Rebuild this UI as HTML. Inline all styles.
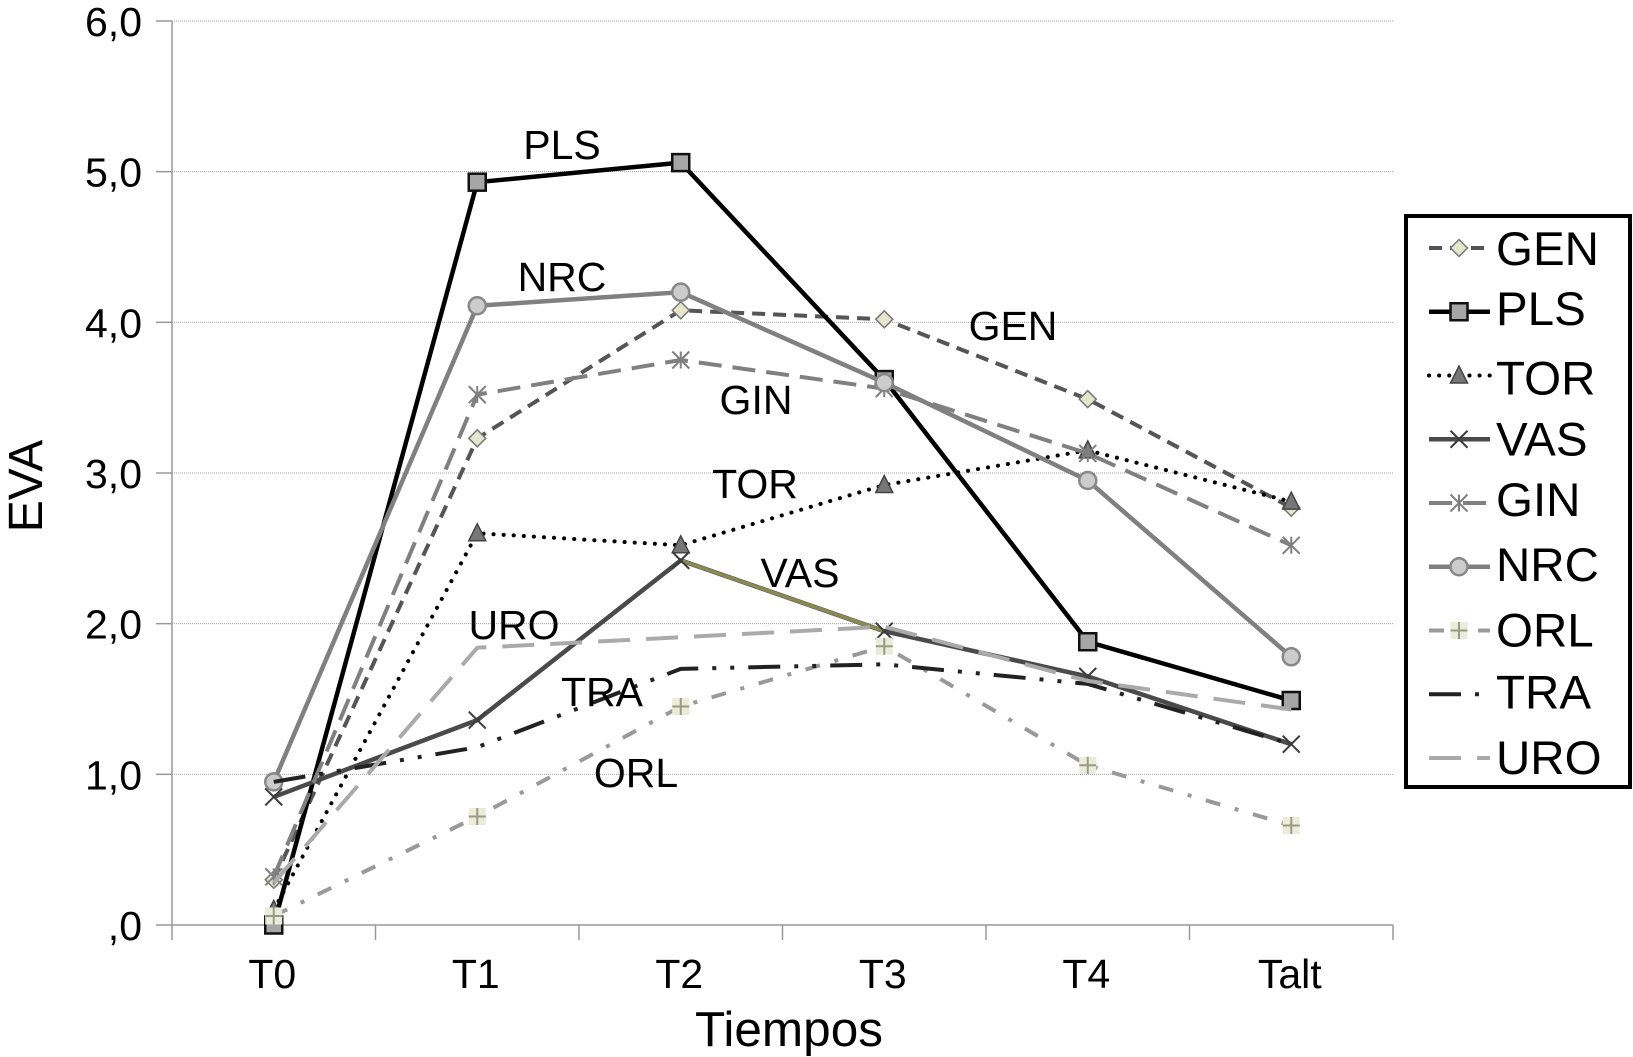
<!DOCTYPE html>
<html lang="es">
<head>
<meta charset="utf-8">
<title>EVA por tiempos</title>
<style>
html,body{margin:0;padding:0;background:#fff;}
svg{display:block;font-family:"Liberation Sans",Arial,sans-serif;fill:#000;}
</style>
</head>
<body>
<svg id="chart" width="1633" height="1057" viewBox="0 0 1633 1057" xmlns="http://www.w3.org/2000/svg">
  <rect x="0" y="0" width="1633" height="1057" fill="#fff"/>
  <g id="grid"></g>
  <g id="axes"></g>
  <text transform="translate(42,486) rotate(-90)" text-anchor="middle" font-size="48">EVA</text>
  <text x="789" y="1046" text-anchor="middle" font-size="49.5">Tiempos</text>
  <g id="series"></g>
  <g font-size="41" text-anchor="middle">
    <text x="562" y="159">PLS</text>
    <text x="562" y="291">NRC</text>
    <text x="1013" y="340">GEN</text>
    <text x="756" y="414">GIN</text>
    <text x="755" y="498">TOR</text>
    <text x="800" y="587">VAS</text>
    <text x="514" y="639">URO</text>
    <text x="602" y="706">TRA</text>
    <text x="636" y="787">ORL</text>
  </g>
  <g id="legend"></g>
</svg>
<script>
const categories = ['T0', 'T1', 'T2', 'T3', 'T4', 'Talt'];
const yTickValues = [0, 1, 2, 3, 4, 5, 6];
const yTickLabels = [',0', '1,0', '2,0', '3,0', '4,0', '5,0', '6,0'];
const seriesNames = ['GEN', 'PLS', 'TOR', 'VAS', 'GIN', 'NRC', 'ORL', 'TRA', 'URO'];
const GEN = [0.30, 3.23, 4.08, 4.02, 3.49, 2.77];
const PLS = [0.00, 4.93, 5.06, 3.62, 1.88, 1.49];
const TOR = [0.10, 2.60, 2.52, 2.92, 3.15, 2.81];
const VAS = [0.85, 1.36, 2.42, 1.95, 1.65, 1.20];
const GIN = [0.32, 3.52, 3.75, 3.56, 3.13, 2.52];
const NRC = [0.95, 4.11, 4.20, 3.60, 2.95, 1.78];
const ORL = [0.06, 0.72, 1.45, 1.85, 1.06, 0.66];
const TRA = [0.95, 1.18, 1.70, 1.73, 1.60, 1.20];
const URO = [0.28, 1.84, 1.91, 1.98, 1.62, 1.43];

const seriesValues = { GEN, PLS, TOR, VAS, GIN, NRC, ORL, TRA, URO };

const seriesStyles = {
  GEN: { color: '#555555', width: 4, dash: '13 8', marker: 'diamond', labelNudge: 0 },
  PLS: { color: '#000000', width: 4.5, dash: '', marker: 'square', labelNudge: -4 },
  TOR: { color: '#000000', width: 4, dash: '0.1 10', cap: 'round', marker: 'triangle', labelNudge: 2 },
  VAS: { color: '#4a4a4a', width: 4.5, dash: '', marker: 'cross', labelNudge: -1 },
  GIN: { color: '#808080', width: 4, dash: '23 11', marker: 'asterisk', labelNudge: -4 },
  NRC: { color: '#808080', width: 4.5, dash: '', marker: 'circle', labelNudge: -3 },
  ORL: { color: '#999999', width: 4, dash: '15 15 4 15', marker: 'plusbox', labelNudge: -1 },
  TRA: { color: '#222222', width: 4, dash: '32 14 4 14 4 14', marker: 'none', labelNudge: -3 },
  URO: { color: '#aaaaaa', width: 4, dash: '32 16', marker: 'none', labelNudge: -1 }
};

const SVGNS = 'http://www.w3.org/2000/svg';
const plotLeft = 172, plotRight = 1393, plotBottom = 925, unitHeight = 150.67;
const bandWidth = (plotRight - plotLeft) / categories.length;
function xScale(i) { return plotLeft + bandWidth * (i + 0.5); }
function yScale(v) { return plotBottom - v * unitHeight; }

function make(parent, tag, attrs) {
  const el = document.createElementNS(SVGNS, tag);
  for (const k in attrs) el.setAttribute(k, attrs[k]);
  parent.appendChild(el);
  return el;
}

function drawMarker(parent, kind, x, y) {
  const g = make(parent, 'g', {});
  const s = 8.5;
  if (kind === 'diamond') {
    make(g, 'polygon', { points: [x, y - s, x + s, y, x, y + s, x - s, y].join(','), fill: '#e6e6cf', stroke: '#777', 'stroke-width': 1.5 });
  } else if (kind === 'square') {
    make(g, 'rect', { x: x - s, y: y - s, width: 2 * s, height: 2 * s, fill: '#a6a6a6', stroke: '#111', 'stroke-width': 2.5 });
  } else if (kind === 'triangle') {
    make(g, 'polygon', { points: [x, y - s - 1, x + s, y + s - 1, x - s, y + s - 1].join(','), fill: '#777', stroke: '#444', 'stroke-width': 1.5 });
  } else if (kind === 'cross') {
    make(g, 'path', { d: `M${x - s} ${y - s}L${x + s} ${y + s}M${x - s} ${y + s}L${x + s} ${y - s}`, stroke: '#3c3c3c', 'stroke-width': 2, fill: 'none' });
  } else if (kind === 'asterisk') {
    make(g, 'path', { d: `M${x - s} ${y - s}L${x + s} ${y + s}M${x - s} ${y + s}L${x + s} ${y - s}M${x} ${y - s}L${x} ${y + s}`, stroke: '#808080', 'stroke-width': 2, fill: 'none' });
  } else if (kind === 'circle') {
    make(g, 'circle', { cx: x, cy: y, r: s, fill: '#cccccc', stroke: '#888', 'stroke-width': 2.5 });
  } else if (kind === 'plusbox') {
    make(g, 'rect', { x: x - s, y: y - s, width: 2 * s, height: 2 * s, fill: '#ebebd9' });
    make(g, 'path', { d: `M${x - s} ${y}L${x + s} ${y}M${x} ${y - s}L${x} ${y + s}`, stroke: '#999984', 'stroke-width': 2, fill: 'none' });
  }
  return g;
}

const gridG = document.getElementById('grid');
const axesG = document.getElementById('axes');
const seriesG = document.getElementById('series');
const legendG = document.getElementById('legend');

yTickValues.forEach(function (v, i) {
  const y = yScale(v);
  if (v !== 0) {
    const line = make(gridG, 'line', { x1: plotLeft, x2: plotRight, y1: y, y2: y, stroke: '#a0a0a0', 'stroke-width': 1, 'stroke-dasharray': '1 1' });
    
    
  }
  const tick = make(axesG, 'line', { x1: plotLeft - 16, x2: plotLeft, y1: y, y2: y, stroke: '#999', 'stroke-width': 1.5 });
  
  
  const label = make(axesG, 'text', { x: 142, y: y + 15, 'text-anchor': 'end', 'font-size': 41 });
  label.textContent = yTickLabels[i];
  
  
});

const yAxis = make(axesG, 'line', { x1: plotLeft, x2: plotLeft, y1: yScale(6), y2: plotBottom + 15, stroke: '#999', 'stroke-width': 1.5 });


const xAxis = make(axesG, 'line', { x1: plotLeft, x2: plotRight, y1: plotBottom, y2: plotBottom, stroke: '#999', 'stroke-width': 1.5 });



for (let i = 1; i <= categories.length; i++) {
  const tx = plotLeft + bandWidth * i;
  const tick = make(axesG, 'line', { x1: tx, x2: tx, y1: plotBottom, y2: plotBottom + 15, stroke: '#999', 'stroke-width': 1.5 });
  
  
}

categories.forEach(function (c, i) {
  const label = make(axesG, 'text', { x: xScale(i) - 1.5, y: 988, 'text-anchor': 'middle', 'font-size': 41 });
  label.textContent = c;
  
  
});

seriesNames.forEach(function (name) {
  const st = seriesStyles[name];
  const vals = seriesValues[name];
  const g = make(seriesG, 'g', {});
  
  
  const pts = vals.map(function (v, i) { return xScale(i) + ',' + yScale(v); }).join(' ');
  const attrs = { points: pts, fill: 'none', stroke: st.color, 'stroke-width': st.width, 'stroke-linejoin': 'round' };
  if (st.dash) attrs['stroke-dasharray'] = st.dash;
  if (st.cap) attrs['stroke-linecap'] = st.cap;
  const line = make(g, 'polyline', attrs);
  
  
  if (name === 'VAS') {
    const seg = make(g, 'line', { x1: xScale(2), y1: yScale(vals[2]), x2: xScale(3), y2: yScale(vals[3]), stroke: '#8a8a55', 'stroke-width': 3.5 });
    
    
  }
  vals.forEach(function (v, i) {
    if (st.marker === 'none') return;
    const m = drawMarker(g, st.marker, xScale(i), yScale(v));
    
    
  });
});

const legendBox = make(legendG, 'rect', { x: 1406, y: 216, width: 224, height: 571, fill: '#fff', stroke: '#000', 'stroke-width': 4 });



seriesNames.forEach(function (name, i) {
  const st = seriesStyles[name];
  const cy = 248 + i * 63.75;
  const row = make(legendG, 'g', {});
  
  
  const attrs = { x1: 1429, x2: 1490, y1: cy, y2: cy, stroke: st.color, 'stroke-width': st.width };
  if (st.dash) attrs['stroke-dasharray'] = st.dash;
  if (st.cap) attrs['stroke-linecap'] = st.cap;
  const sample = make(row, 'line', attrs);
  
  
  if (st.marker !== 'none') {
    const m = drawMarker(row, st.marker, 1459, cy);
    
    
  }
  const t = make(row, 'text', { x: 1496, y: cy + 17 + st.labelNudge, 'font-size': 47.5 });
  t.textContent = name;
  
  
});
</script>
</body>
</html>
